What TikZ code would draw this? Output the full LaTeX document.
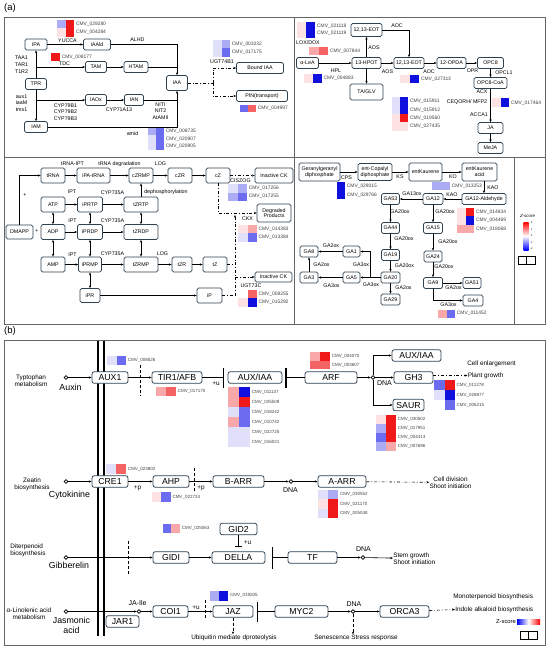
\documentclass[tikz,border=0pt]{standalone}
\usepackage{fontspec}
\setmainfont{Liberation Sans}
\usetikzlibrary{arrows.meta}
\definecolor{bcol}{RGB}{46,66,82}
\definecolor{R1}{RGB}{240,25,25}
\definecolor{R2}{RGB}{245,100,100}
\definecolor{R3}{RGB}{248,168,168}
\definecolor{R4}{RGB}{252,226,226}
\definecolor{B1}{RGB}{15,15,222}
\definecolor{B2}{RGB}{108,108,240}
\definecolor{B3}{RGB}{172,172,246}
\definecolor{B4}{RGB}{224,224,251}
\newcommand{\hmrow}[7]{%
    \fill[#5] (#1,#2) rectangle ++(#3,#4);
    \fill[#6] ({#1+#3},#2) rectangle ++(#3,#4);
    \node[cmv] (c#7) at ({#1+2*#3+1.5},{#2+#4/2}) {CMV\_#7};}
\begin{document}
\begin{tikzpicture}[x=1pt, y=-1pt, line width=0.6pt, >={Stealth[length=2.8pt, width=2.3pt]},
    abox/.style={draw=bcol, fill=white, rounded corners=1.6pt, line width=0.75pt, inner sep=0pt, minimum height=11pt, align=center, font=\fontsize{5.3}{5.8}\selectfont},
    cbox/.style={abox, minimum height=15pt},
    bbox/.style={draw=bcol, fill=white, rounded corners=2.2pt, line width=0.8pt, inner sep=0pt, minimum height=11.5pt, font=\fontsize{8.7}{9}\selectfont},
    lbl/.style={inner sep=0pt, align=center, font=\fontsize{5.3}{6.7}\selectfont},
    cmv/.style={inner sep=0pt, anchor=west, text=black!75, font=\fontsize{4.9}{5}\selectfont},
    sl/.style={inner sep=0pt, align=center, font=\fontsize{6.4}{7}\selectfont},
    bigl/.style={inner sep=0pt, align=center, font=\fontsize{8.8}{10}\selectfont},
    dnal/.style={inner sep=0pt, font=\fontsize{7}{8}\selectfont},
    odot/.style={circle, draw, fill=white, inner sep=0pt, minimum size=3.8pt, line width=0.7pt},
    pframe/.style={draw=black!60, line width=0.9pt},
    dd/.style={dash dot},
    cut/.style={densely dashed, line width=0.5pt},
    inh/.style={-{Bar[width=20pt, line width=1.1pt]}, shorten >=4pt},
    inhs/.style={{Bar[width=20pt, line width=1.1pt]}-, shorten <=3pt}]
    \useasboundingbox (0,0) rectangle (550,649);
    \draw[pframe] (4,17) rectangle (545,324);
    \draw[pframe] (294,17) -- (294,324);
    \draw[pframe] (4,157) -- (545,157);
    \draw[pframe] (514,157) -- (514,324);
    \draw[pframe] (4,340) rectangle (545,645);
    \node[inner sep=0pt, font=\fontsize{9.5}{10}\selectfont] (pa) at (10,8.5) {(a)};
    \node[inner sep=0pt, font=\fontsize{9.5}{10}\selectfont] (pb) at (10,331) {(b)};

    % auxin
    \node[abox, minimum width=22pt] (ipa) at (36,44.5) {IPA};
    \node[abox, minimum width=27pt] (iaald) at (97,44.5) {IAAld};
    \node[abox, minimum width=21pt] (tpr) at (36,84) {TPR};
    \node[abox, minimum width=21pt] (tam) at (96,67) {TAM};
    \node[abox, minimum width=24pt] (htam) at (136,67) {HTAM};
    \node[abox, minimum width=21pt, minimum height=15pt] (iaa) at (177,83) {IAA};
    \node[abox, minimum width=21pt] (iaox) at (96,100) {IAOx};
    \node[abox, minimum width=19pt] (ian) at (134,100) {IAN};
    \node[abox, minimum width=23pt] (iam) at (36,127) {IAM};
    \node[abox, minimum width=47pt] (bound) at (260,68) {Bound IAA};
    \node[abox, minimum width=51pt] (pin) at (262,96) {PIN(transport)};
    \draw[->] (tpr) -- (ipa);
    \draw[->] (tpr) -- (iam);
    \draw[->] (ipa) -- (iaald);
    \draw[->] (iaald) -| (iaa);
    \draw (htam) -- (htam -| iaa);
    \draw[->] (tpr |- tam) -- (tam);
    \draw[->] (tam) -- (htam);
    \draw[->] (tpr |- iaox) -- (iaox);
    \draw[->] (iaox) -- (ian);
    \draw[->] (iam) -| (iaa);
    \draw (ian) -- (ian -| iaa);
    \coordinate (ugt) at (213,83);
    \draw[dd] (iaa) -- (ugt);
    \draw[->, dd] (ugt) |- (bound);
    \draw[->, dd] (ugt) |- (pin);
    \node[lbl] (lyuc) at (67.5,41) {YUCCA};
    \node[lbl] (lalhd) at (137.5,39.5) {ALHD};
    \node[lbl] (ltaa) at (21.5,64.5) {TAA1\\TAR1\\T1R2};
    \node[lbl] (ltdc) at (64.5,63.5) {TDC};
    \node[lbl] (laux) at (21.5,103) {aux1\\iaaM\\tms1};
    \node[lbl] (lcyp) at (65.5,112) {CYP79B1\\CYP79B2\\CYP79B3};
    \node[lbl] (lcyp71) at (119,110) {CYP71A13};
    \node[lbl] (lnit) at (160.5,111) {NITI\\NIT2\\AtAMII};
    \node[lbl] (lamid) at (132.5,134) {amid};
    \node[lbl] (lugt) at (222,62) {UGT74B1};
    \hmrow{57}{20}{8.6}{8.3}{B3}{R1}{029280}
    \hmrow{57}{28.3}{8.6}{8.3}{R4}{R1}{004284}
    \fill[R1] (51,53) rectangle ++(9,8);
    \node[cmv] (c008177) at (61.5,57) {CMV\_008177};
    \hmrow{213.3}{40}{8.4}{8.3}{B4}{B3}{001032}
    \hmrow{213.3}{48.3}{8.4}{8.3}{B4}{B2}{017175}
    \hmrow{240}{104.5}{8}{7}{B2}{R2}{004997}
    \hmrow{148}{127.5}{8}{7.6}{B3}{B2}{008735}
    \hmrow{148}{135.1}{8}{7.6}{B4}{B2}{020907}
    \hmrow{148}{142.7}{8}{7.6}{B4}{B2}{020905}

    % jasmonic acid
    \node[abox, minimum width=31pt, minimum height=13pt] (eotu) at (366.5,30) {12,13-EOT};
    \node[abox, minimum width=22pt] (alea) at (307.5,63) {α-LeA};
    \node[abox, minimum width=29pt] (hpot) at (366.5,63) {13-HPOT};
    \node[abox, minimum width=33pt, minimum height=16pt] (tag) at (366.5,92) {TA/GLV};
    \node[abox, minimum width=30pt] (eotl) at (409,63) {12,13-EOT};
    \node[abox, minimum width=29pt] (opda) at (451.5,63) {12-OPDA};
    \node[abox, minimum width=26pt] (opc8) at (490.5,63) {OPC8};
    \node[abox, minimum width=33pt] (opcoa) at (490.5,83) {OPC8-CoA};
    \node[abox, minimum width=25pt] (ja) at (490.5,128) {JA};
    \node[abox, minimum width=25pt] (meja) at (490.5,148) {MeJA};
    \draw[->] (alea) -- (hpot);
    \draw[->] (hpot) -- (eotu);
    \draw[->] (hpot) -- (tag);
    \draw[->] (hpot) -- (eotl);
    \draw[->] (eotu) -| (eotl);
    \draw[->] (eotl) -- (opda);
    \draw[->] (opda) -- (opc8);
    \draw[->] (opc8) -- (opcoa);
    \draw[->] (opcoa) -- (ja);
    \draw[->] (ja) -- (meja);
    \node[lbl] (llox) at (308,43) {LOX/DOX};
    \node[lbl] (lhpl) at (336,71) {HPL};
    \node[lbl] (laos1) at (374,48) {AOS};
    \node[lbl] (laos2) at (387.5,72) {AOS};
    \node[lbl] (laoc1) at (397,26) {AOC};
    \node[lbl] (laoc2) at (429,72) {AOC};
    \node[lbl] (lopr) at (472.5,71) {OPR};
    \node[lbl] (lopcl) at (504,73) {OPCL1};
    \node[lbl] (lacx) at (482,92) {ACX};
    \node[lbl] (lceq) at (467,102) {CEQORH/ MFP2};
    \node[lbl] (lacca) at (479,115) {ACCA1};
    \hmrow{297}{22}{9.2}{7.8}{R4}{B1}{021118}
    \hmrow{297}{29.8}{9.2}{7.8}{R4}{B1}{021119}
    \hmrow{309.3}{47.3}{9.5}{7.7}{R3}{R2}{007844}
    \hmrow{304}{74.3}{8.9}{8.5}{R4}{B1}{004883}
    \hmrow{400}{75}{9.6}{8.3}{R4}{B1}{027313}
    \hmrow{391.7}{97.3}{8.3}{8.35}{B4}{B1}{015911}
    \hmrow{391.7}{105.65}{8.3}{8.35}{B4}{B1}{015912}
    \hmrow{391.7}{114}{8.3}{8.35}{R4}{R1}{019560}
    \hmrow{391.7}{122.35}{8.3}{8.35}{R4}{R4}{027435}
    \hmrow{491.7}{98.3}{8.8}{9}{R4}{B1}{017464}

    % cytokinin
    \node[cbox, minimum width=24pt] (trna) at (53,175.5) {tRNA};
    \node[cbox, minimum width=33pt] (ipatrna) at (93.5,175.5) {iPA-tRNA};
    \node[cbox, minimum width=24pt] (czrmp) at (141,175.5) {cZRMP};
    \node[cbox, minimum width=24pt] (czr) at (180,175.5) {cZR};
    \node[cbox, minimum width=24pt] (cz) at (218,175.5) {cZ};
    \node[cbox, minimum width=38pt] (inck1) at (274,175.5) {Inactive CK};
    \node[cbox, minimum width=34pt, minimum height=18pt] (degr) at (274,213) {Degraded\\Products};
    \node[cbox, minimum width=24pt] (atp) at (53,204.5) {ATP};
    \node[cbox, minimum width=25pt] (iprtp) at (90,204.5) {iPRTP};
    \node[cbox, minimum width=34pt] (tzrtp) at (141,204.5) {tZRTP};
    \node[cbox, minimum width=27pt, minimum height=14pt] (dmapp) at (19.5,232) {DMAPP};
    \node[cbox, minimum width=24pt] (adp) at (53,232) {ADP};
    \node[cbox, minimum width=25pt] (iprdp) at (90,232) {iPRDP};
    \node[cbox, minimum width=34pt] (tzrdp) at (141,232) {tZRDP};
    \node[cbox, minimum width=24pt] (amp) at (53,264.5) {AMP};
    \node[cbox, minimum width=23pt] (iprmp) at (90,264.5) {iPRMP};
    \node[cbox, minimum width=34pt] (tzrmp) at (141,264.5) {tZRMP};
    \node[cbox, minimum width=20pt] (tzr) at (182,264.5) {tZR};
    \node[cbox, minimum width=24pt] (tz) at (215,264.5) {tZ};
    \node[cbox, minimum width=20pt, minimum height=14pt] (ipr) at (90,295.5) {iPR};
    \node[cbox, minimum width=25pt] (ip) at (209.5,295.5) {iP};
    \node[abox, minimum width=37pt, minimum height=10pt] (inck2) at (273.5,277) {Inactive CK};
    \draw[->] (dmapp) |- (trna);
    \draw[->] (trna) -- (ipatrna);
    \draw[->] (ipatrna) -- (czrmp);
    \draw[->] (czrmp) -- (czr);
    \draw[->] (czr) -- (cz);
    \draw[->] (tzrtp) -- (czrmp);
    \draw[->] (atp) -- (iprtp);
    \draw[->] (iprtp) -- (tzrtp);
    \draw[->] (adp) -- (iprdp);
    \draw[->] (iprdp) -- (tzrdp);
    \draw[->] (amp) -- (iprmp);
    \draw[->] (iprmp) -- (tzrmp);
    \draw[->] (tzrmp) -- (tzr);
    \draw[->] (tzr) -- (tz);
    \draw[->] (ipr) -- (ip);
    \draw[<->] (atp) -- (adp);
    \draw[<->] (adp) -- (amp);
    \draw[<->] (iprtp) -- (iprdp);
    \draw[<->] (iprdp) -- (iprmp);
    \draw[<->] (iprmp) -- (ipr);
    \draw[<->] (tzrtp) -- (tzrdp);
    \draw[<->] (tzrdp) -- (tzrmp);
    \draw[->, dd] (cz) -- (inck1);
    \draw[->, dd] (cz) |- (degr);
    \coordinate (ckb) at (235,295.5);
    \coordinate (ckt) at (235,215);
    \draw[dd] (ip) -- (ckb);
    \draw[->, dd] (ckb) -- (ckt);
    \draw[dd] (tz) -- (tz -| ckb);
    \draw[->, dd] (ckb |- inck2) -- (inck2);
    \node[lbl] (plus1) at (25,195) {+};
    \node[lbl] (plus2) at (37,230.5) {+};
    \node[lbl] (ltipt) at (72.5,164) {tRNA-IPT};
    \node[lbl] (ltdeg) at (119.5,164) {tRNA degradation};
    \node[lbl] (llog1) at (160.5,164) {LOG};
    \node[lbl] (lipt1) at (72,192) {IPT};
    \node[lbl] (lcyp1) at (112.5,193) {CYP735A};
    \node[lbl, anchor=west] (ldeph) at (144,192) {dephosphorylation};
    \node[lbl] (lipt2) at (72.5,221) {IPT};
    \node[lbl] (lcyp2) at (112.5,221) {CYP735A};
    \node[lbl] (lipt3) at (72.5,255) {IPT};
    \node[lbl] (lcyp3) at (112.5,254) {CYP735A};
    \node[lbl] (llog2) at (162.5,254) {LOG};
    \node[lbl] (lcis) at (240.5,180.5) {CISZOG};
    \node[lbl] (lckx) at (247.5,219) {CKX};
    \node[lbl] (lugt73) at (251,286) {UGT73C};
    \hmrow{228}{184.3}{9.5}{8.3}{B4}{B3}{017256}
    \hmrow{228}{192.6}{9.5}{8.3}{B3}{B2}{017255}
    \hmrow{238.3}{225}{9.2}{8.3}{R4}{R3}{014383}
    \hmrow{238.3}{233.3}{9.2}{8.3}{B4}{B2}{013384}
    \hmrow{238.3}{290}{9.2}{8.3}{white}{R2}{008255}
    \hmrow{238.3}{298.3}{9.2}{8.3}{R4}{B1}{015292}

    % gibberellin
    \node[abox, minimum width=41pt, minimum height=18pt] (ggdp) at (319.5,172) {Geranylgeranyl\\diphosphate};
    \node[abox, minimum width=34pt, minimum height=17pt] (ecdp) at (375,172) {ent-Copalyl\\diphosphate};
    \node[abox, minimum width=33pt, minimum height=18pt] (ek) at (425.5,172) {entKaurene};
    \node[abox, minimum width=35pt, minimum height=18pt] (eka) at (479.5,172) {entKaurene\\acid};
    \node[abox, minimum width=44pt] (ga12ald) at (484,199) {GA12-Aldehyde};
    \node[abox, minimum width=20pt] (ga12) at (433,199) {GA12};
    \node[abox, minimum width=18pt] (ga53) at (390.5,199) {GA53};
    \node[abox, minimum width=18pt] (ga44) at (390.5,228) {GA44};
    \node[abox, minimum width=19pt] (ga15) at (433,228) {GA15};
    \node[abox, minimum width=18pt] (ga19) at (390.5,255) {GA19};
    \node[abox, minimum width=18pt] (ga24) at (433,256.5) {GA24};
    \node[abox, minimum width=19pt] (ga20) at (390.5,277.5) {GA20};
    \node[abox, minimum width=19pt] (ga9) at (433,283) {GA9};
    \node[abox, minimum width=19pt] (ga29) at (390.5,299.5) {GA29};
    \node[abox, minimum width=18pt] (ga51) at (472,283) {GA51};
    \node[abox, minimum width=20pt] (ga4) at (473,300.5) {GA4};
    \node[abox, minimum width=18pt] (ga8) at (309,251.5) {GA8};
    \node[abox, minimum width=17pt] (ga1) at (351.5,251.5) {GA1};
    \node[abox, minimum width=18pt] (ga3) at (309,277.5) {GA3};
    \node[abox, minimum width=17pt] (ga5) at (351.5,277.5) {GA5};
    \draw[->] (ggdp) -- (ecdp);
    \draw[->] (ecdp) -- (ek);
    \draw[->] (ek) -- (eka);
    \draw[->] (ga12ald |- eka.south) -- (ga12ald);
    \draw[->] (ga12ald) -- (ga12);
    \draw[->] (ga12) -- (ga53);
    \draw[->] (ga53) -- (ga44);
    \draw[->] (ga44) -- (ga19);
    \draw[->] (ga19) -- (ga20);
    \draw[->] (ga20) -- (ga29);
    \draw[->] (ga12) -- (ga15);
    \draw[->] (ga15) -- (ga24);
    \draw[->] (ga24) -- (ga9);
    \draw[->] (ga9) -- (ga51);
    \draw[->] (ga9) |- (ga4);
    \draw[->] (ga20) -- (ga5);
    \coordinate (ga20w) at (370,277.5);
    \draw[->] (ga20w) |- (ga1);
    \draw[->] (ga1) -- (ga8);
    \draw[->] (ga5) -- (ga3);
    \draw[->] (ga3) -- (ga8);
    \node[lbl] (lcps) at (346.5,178) {CPS};
    \node[lbl] (lks) at (400,177) {KS};
    \node[lbl] (lko) at (453,176.5) {KO};
    \node[lbl] (lkao1) at (493,188) {KAO};
    \node[lbl] (lkao2) at (452,195) {KAO};
    \node[lbl] (lga13) at (412,193.5) {GA13ox};
    \node[lbl] (l20a) at (400,212) {GA20ox};
    \node[lbl] (l20b) at (445,212) {GA20ox};
    \node[lbl] (l20c) at (404,239) {GA20ox};
    \node[lbl] (l20d) at (448,242) {GA20ox};
    \node[lbl] (l20e) at (404.5,266) {GA20ox};
    \node[lbl] (l20f) at (444,267) {GA20ox};
    \node[lbl] (l2a) at (403.5,287.5) {GA2ox};
    \node[lbl] (l2b) at (453.5,287.5) {GA2ox};
    \node[lbl] (l3a) at (448.5,304.5) {GA3ox};
    \node[lbl] (l3b) at (371,285) {GA3ox};
    \node[lbl] (l3c) at (361,265) {GA3ox};
    \node[lbl] (l2c) at (331,245.5) {GA2ox};
    \node[lbl] (l2d) at (321.5,265) {GA2ox};
    \node[lbl] (l3d) at (331.5,285.5) {GA3ox};
    \hmrow{328.3}{181.7}{8.4}{8.8}{white}{B1}{029015}
    \hmrow{328.3}{190.5}{8.4}{8.8}{white}{B1}{029766}
    \hmrow{431.7}{181.7}{9.2}{8.3}{B3}{B3}{013253}
    \hmrow{456.7}{207.7}{8.8}{8.5}{R4}{R1}{014834}
    \hmrow{456.7}{216.2}{8.8}{8.5}{R4}{B1}{004469}
    \hmrow{456.7}{224.7}{8.8}{8.5}{R3}{R3}{018068}
    \hmrow{438.3}{310}{8.4}{7.5}{R3}{B2}{011452}
    \node[inner sep=0pt, font=\itshape\fontsize{4.4}{5}\selectfont] (zsa) at (527.5,216.5) {Z-score};
    \shade[top color=red, bottom color=blue, middle color=white] (523.5,222) rectangle (528.5,250);
    \foreach \t/\v in {2/223, 1/229.5, 0/236, -1/242.5, -2/249}
        \node[inner sep=0pt, font=\fontsize{2.6}{3}\selectfont] at (531.5,\v) {\t};
    \draw[line width=0.6pt] (518.5,256) rectangle (535,264.5);
    \draw[line width=0.6pt] (526.75,256) -- (526.75,264.5);

    % panel b
    \draw[line width=1.3pt] (98,341) -- (98,636);
    \draw[line width=1.3pt] (104,341) -- (104,636);
    \node[bbox, minimum width=36pt] (aux1) at (110,377.5) {AUX1};
    \node[bbox, minimum width=50pt] (tir) at (177,377.5) {TIR1/AFB};
    \node[bbox, minimum width=54pt] (auxiaa) at (255,377.5) {AUX/IAA};
    \node[bbox, minimum width=52pt] (arf) at (331,377.5) {ARF};
    \node[bbox, minimum width=49pt] (auxiaa2) at (416.5,355.5) {AUX/IAA};
    \node[bbox, minimum width=39pt] (gh3) at (413.5,377.5) {GH3};
    \node[bbox, minimum width=31pt] (saur) at (408.5,405) {SAUR};
    \node[bbox, minimum width=36pt] (cre1) at (110,481.5) {CRE1};
    \node[bbox, minimum width=36pt] (ahp) at (171,481.5) {AHP};
    \node[bbox, minimum width=51pt] (barr) at (238.5,481.5) {B-ARR};
    \node[bbox, minimum width=48pt] (aarr) at (342,481.5) {A-ARR};
    \node[bbox, minimum width=37pt] (gid2) at (238.5,529) {GID2};
    \node[bbox, minimum width=36pt] (gid1) at (171,557.5) {GIDI};
    \node[bbox, minimum width=53pt] (della) at (238.5,557.5) {DELLA};
    \node[bbox, minimum width=49pt] (tf) at (312.5,557.5) {TF};
    \node[bbox, minimum width=35pt] (coi1) at (170.5,611.5) {COI1};
    \node[bbox, minimum width=33pt] (jar1) at (122.5,621.5) {JAR1};
    \node[bbox, minimum width=40pt] (jaz) at (233,611.5) {JAZ};
    \node[bbox, minimum width=53pt] (myc2) at (301.5,611.5) {MYC2};
    \node[bbox, minimum width=49pt] (orca3) at (404.5,611.5) {ORCA3};
    \node[odot] (auxin) at (66,377.5) {};
    \node[odot] (dna1) at (373,377.5) {};
    \node[odot] (ck) at (66,481.5) {};
    \node[odot] (dna2) at (291,481.5) {};
    \node[odot] (gb) at (66,557.5) {};
    \node[odot] (dna3) at (363,557.5) {};
    \node[odot] (jas) at (66,611.5) {};
    \node[odot] (jaile) at (139,611.5) {};
    \node[odot] (dna4) at (353,611.5) {};
    \node[sl] (ltrp) at (31,380.5) {Typtophan\\metabolism};
    \node[bigl] (lauxin) at (70.5,387.5) {Auxin};
    \node[sl] (lzea) at (32,484.5) {Zeatin\\biosynthesis};
    \node[bigl] (lck) at (69.5,495) {Cytokinine};
    \node[sl, align=left, anchor=west] (ldit) at (10,550.5) {Diterpenoid\\biosynthesis};
    \node[bigl] (lgb) at (69,565.5) {Gibberelin};
    \node[sl] (llin) at (29,613.5) {α-Linolenic acid\\metabolism};
    \node[bigl] (ljas) at (71.5,625) {Jasmonic\\acid};
    \node[sl, anchor=west] (lce) at (467,364) {Cell enlargement};
    \node[sl, anchor=west] (lpg) at (467.5,375.5) {Plant growth};
    \node[sl] (lcd) at (450.5,482.5) {Cell division\\Shoot initiation};
    \node[sl, align=left, anchor=west] (lsg) at (393,558.5) {Stem growth\\Shoot initiation};
    \node[sl, anchor=west] (lmono) at (453,596.5) {Monoterpenoid biosynthesis};
    \node[sl, anchor=west] (lind) at (455,609.5) {Indole alkaloid biosynthesis};
    \node[sl] (lubq) at (234,637.5) {Ubiquitin mediate dproteolysis};
    \node[sl] (lsen) at (356,637.5) {Senescence Stress response};
    \node[sl] (lpu1) at (216,383.5) {+u};
    \node[sl] (lpp1) at (137.5,488.5) {+p};
    \node[sl] (lpp2) at (201,488.5) {+p};
    \node[sl] (lpu2) at (247.5,543) {+u};
    \node[sl] (lpu3) at (196,607.5) {+u};
    \node[dnal] (ldna1) at (384.5,383.5) {DNA};
    \node[dnal] (ldna2) at (290.5,490.5) {DNA};
    \node[dnal] (ldna3) at (363.5,549) {DNA};
    \node[dnal] (ldna4) at (354,604) {DNA};
    \node[dnal] (ljaile) at (137.5,603) {JA-Ile};
    \draw[->] (auxin) -- (aux1);
    \draw[->] (aux1) -- (tir);
    \draw[inh] (tir) -- (auxiaa);
    \draw[inhs] (auxiaa) -- (arf);
    \draw[->] (arf) -- (dna1);
    \draw[->] (dna1) |- (auxiaa2);
    \draw[->] (dna1) -- (gh3);
    \draw[->] (dna1) |- (saur);
    \draw[->, dd] (gh3.east |- lpg.west) -- (lpg.west);
    \draw[->] (ck) -- (cre1);
    \draw[->] (cre1) -- (ahp);
    \draw[->] (ahp) -- (barr);
    \draw[->] (barr) -- (dna2);
    \draw[->] (dna2) -- (aarr);
    \draw[->, dd] (aarr) -- (lcd);
    \draw[-{Bar[width=7pt, line width=1.1pt]}, shorten >=4pt] (gid2) -- (della);
    \draw[->] (gb) -- (gid1);
    \draw[->] (gid1) -- (della);
    \draw[inhs, shorten <=6.5pt, {Bar[width=22pt, line width=1.1pt]}-] (della) -- (tf);
    \draw[->] (tf) -- (dna3);
    \draw[->] (dna3) -- (lsg);
    \draw[->] (jas) -- (jaile);
    \draw[->] (jaile) -- (coi1);
    \draw[->] (coi1) -- (jaz);
    \draw[inhs, shorten <=3.5pt] (jaz) -- (myc2);
    \draw[->] (myc2) -- (dna4);
    \draw[->] (dna4) -- (orca3);
    \draw[->, dd] (orca3) -- (lind.west);
    \draw[->, densely dashed] (jaz) -- (jaz |- lubq.north);
    \draw[->, densely dashed] (dna4) -- (dna4 |- lsen.north);
    \draw[cut] (140,365) -- (140,396);
    \draw[cut] (194,468) -- (194,491);
    \draw[cut] (128,541) -- (128,575);
    \draw[cut] (205,600) -- (205,619);
    \begin{scope}[cmv/.append style={font=\fontsize{4.5}{5}\selectfont}]
        \hmrow{107.3}{356}{9.4}{9}{B4}{B2}{008526}
        \hmrow{156}{387}{10}{9}{R3}{R2}{017170}
        \hmrow{228}{387}{11}{10}{R3}{B1}{011137}
        \hmrow{228}{397}{11}{10}{R3}{R1}{025509}
        \hmrow{228}{407}{11}{10}{B4}{B2}{018242}
        \hmrow{228}{417}{11}{10}{R3}{B2}{010742}
        \hmrow{228}{427}{11}{10}{B4}{B4}{022725}
        \hmrow{228}{437}{11}{10}{B4}{B4}{016021}
        \hmrow{310}{351.7}{10}{8.8}{R3}{R1}{004070}
        \hmrow{310}{360.5}{10}{8.8}{R2}{R2}{003607}
        \hmrow{376}{415}{10}{9}{R4}{R1}{030502}
        \hmrow{376}{424}{10}{9}{B3}{R1}{017951}
        \hmrow{376}{433}{10}{9}{B2}{R1}{004413}
        \hmrow{376}{442}{10}{9}{B3}{R3}{007696}
        \hmrow{434.3}{380}{10.3}{10}{B2}{R1}{011278}
        \hmrow{434.3}{390}{10.3}{10}{B4}{B1}{028877}
        \hmrow{434.3}{400}{10.3}{10}{white}{B2}{006215}
        \hmrow{106}{464.3}{10}{10}{B4}{R2}{023802}
        \hmrow{151.7}{492.3}{9.5}{9.4}{R4}{B2}{022724}
        \hmrow{318.3}{490}{10}{9.4}{B4}{B3}{030552}
        \hmrow{318.3}{499.4}{10}{9.4}{R4}{R1}{021170}
        \hmrow{318.3}{508.8}{10}{9.4}{B4}{R1}{005048}
        \hmrow{162.7}{524.3}{8.7}{9}{B2}{R3}{025063}
        \hmrow{210}{590.7}{9.2}{10}{B3}{B1}{019205}
    \end{scope}
    \node[inner sep=0pt, font=\fontsize{5.8}{6}\selectfont] (zsb) at (506,622) {Z-score};
    \shade[left color=blue, right color=red, middle color=white] (517,619.5) rectangle (540,624.5);
    \draw[line width=0.6pt] (520,631) rectangle (537,639.5);
    \draw[line width=0.6pt] (528.5,631) -- (528.5,639.5);
\end{tikzpicture}
\end{document}
